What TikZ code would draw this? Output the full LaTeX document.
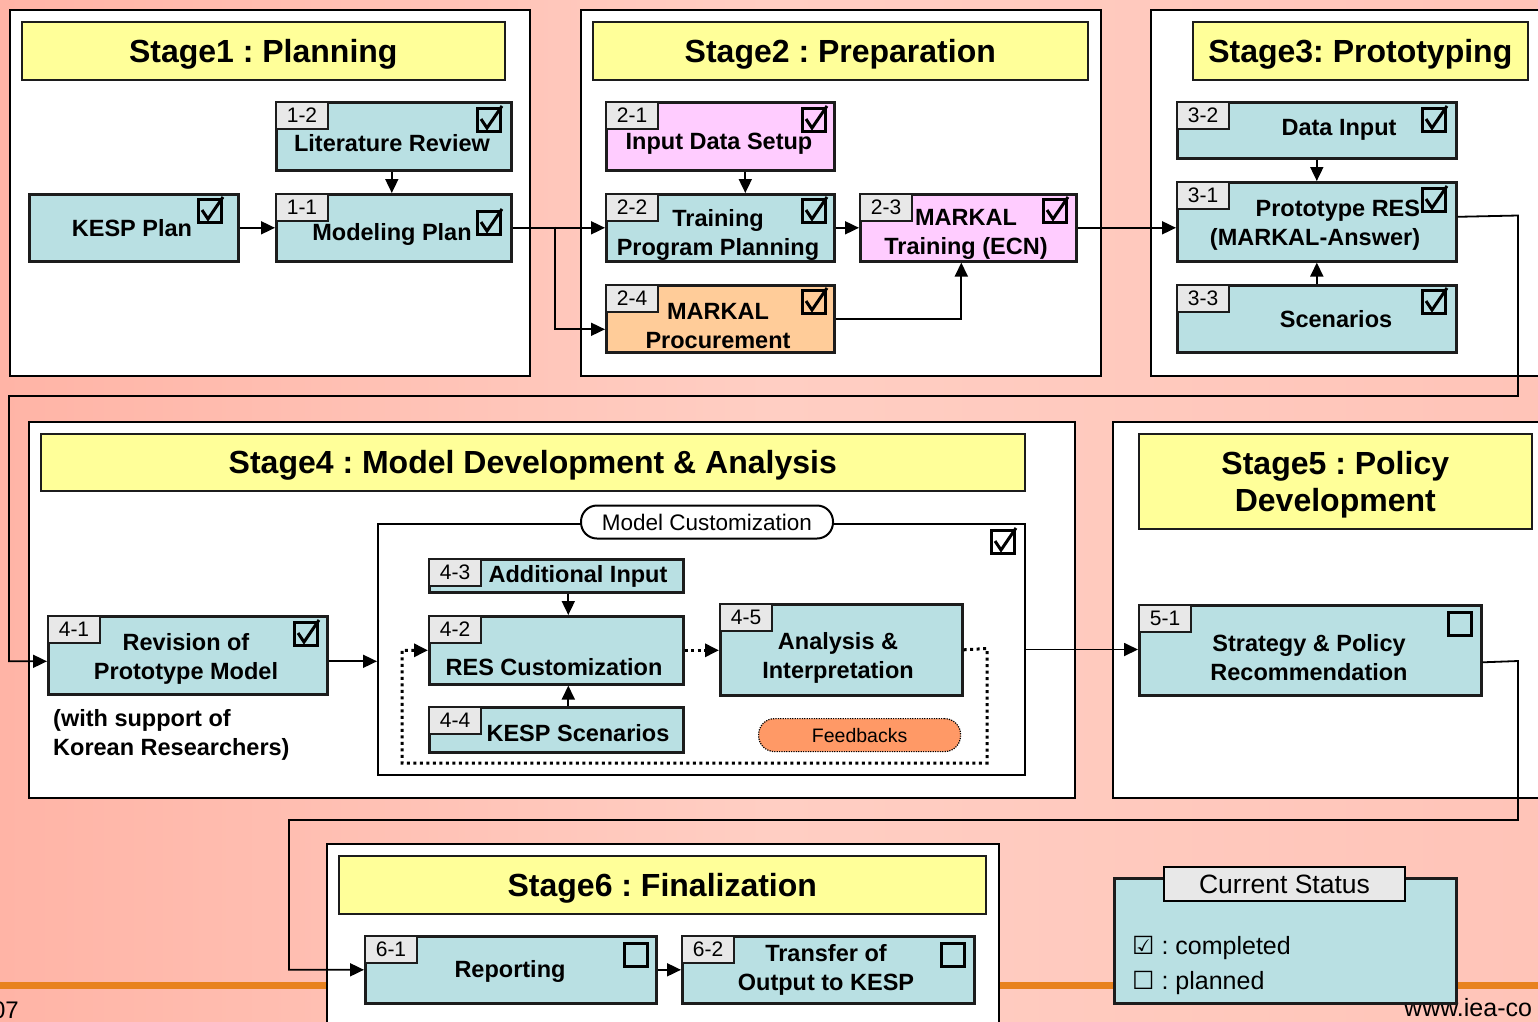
\documentclass[tikz,border=0pt]{standalone}
\usepackage{fontspec}
\setmainfont{Liberation Sans}
\newfontfamily\symfont{DejaVu Sans}
\usetikzlibrary{arrows.meta}
\frenchspacing
\definecolor{bgA}{RGB}{255,180,166}
\definecolor{bgB}{RGB}{255,206,195}
\definecolor{bgC}{RGB}{255,196,184}
\definecolor{tealbox}{RGB}{185,224,227}
\definecolor{pinkbox}{RGB}{255,204,255}
\definecolor{orangebox}{RGB}{255,204,153}
\definecolor{yellowbox}{RGB}{255,255,153}
\definecolor{tagfill}{RGB}{232,232,232}
\definecolor{feedfill}{RGB}{255,153,102}
\definecolor{footerline}{RGB}{232,130,30}
\definecolor{edge}{RGB}{28,28,28}

\tikzset{
  stagebox/.style={draw=black, line width=2pt, fill=white, anchor=north west, inner sep=0pt},
  titlebox/.style={draw=edge, line width=1.6pt, fill=yellowbox, anchor=north west, inner sep=0pt, align=center, text depth=0pt, font=\bfseries\fontsize{32}{37}\selectfont},
  taskbox/.style={draw=edge, line width=2.6pt, anchor=north west, inner sep=0pt},
  tagbox/.style={draw=edge, line width=2pt, fill=tagfill, anchor=north west, inner sep=0pt, minimum width=52pt, minimum height=27pt, font=\fontsize{21}{21}\selectfont},
  lbl/.style={align=center, inner sep=0pt, font=\bfseries\fontsize{23.5}{29}\selectfont},
  chkbox/.style={draw=black, line width=2.8pt, minimum size=23.5pt, inner sep=0pt},
  chkline/.style={draw=black, line width=3pt, line join=miter},
  conn/.style={draw=black, line width=1.8pt},
  arr/.style={conn, -{Triangle[length=14pt,width=13pt]}},
  dotconn/.style={draw=black, line width=3pt, dash pattern=on 3pt off 3.5pt},
}

\newcommand\mkbox[7]{%
  \node[taskbox, fill=#6, minimum width=#4, minimum height=#5] (#1) at (#2,#3) {};
  \node[tagbox] (#1tag) at (#2,#3) {#7};}
\newcommand\mkchk[3]{%
  \node[chkbox] (#1) at (#2,#3) {};
  \draw[chkline] ([shift={(-8pt,1pt)}]#1.center) -- ([shift={(-2pt,-8pt)}]#1.center) -- ([shift={(13pt,14pt)}]#1.center);}

\begin{document}
\begin{tikzpicture}[x=1pt,y=-1pt]
\useasboundingbox (0,0) rectangle (1538,1021);
\clip (0,0) rectangle (1538,1021);
\shade[left color=bgA, right color=bgC, middle color=bgB] (0,0) rectangle (1538,1021);
\fill[footerline] (0,982) rectangle (1538,989);
\node[anchor=north east, inner sep=0pt, font=\fontsize{24}{24}\selectfont] (pg) at (19,1002) {07};
\node[anchor=north west, inner sep=0pt, font=\fontsize{25}{25}\selectfont] (url) at (1404,998) {www.iea-co};

% stages
\node[stagebox, minimum width=520, minimum height=366] (s1) at (9,9) {};
\node[stagebox, minimum width=520, minimum height=366] (s2) at (580,9) {};
\node[stagebox, minimum width=430, minimum height=366] (s3) at (1150,9) {};
\node[stagebox, minimum width=1046, minimum height=376] (s4) at (28,421) {};
\node[stagebox, minimum width=460, minimum height=376] (s5) at (1112,421) {};
\node[stagebox, minimum width=672, minimum height=220] (s6) at (326,843) {};

\node[titlebox, minimum width=483, minimum height=58] (t1) at (21,21) {Stage1 : Planning};
\node[titlebox, minimum width=495, minimum height=58] (t2) at (592,21) {Stage2 : Preparation};
\node[titlebox, minimum width=335, minimum height=58] (t3) at (1192,21) {Stage3: Prototyping};
\node[titlebox, minimum width=984, minimum height=57] (t4) at (40,433) {Stage4 : Model Development \& Analysis};
\node[titlebox, minimum width=393, minimum height=95] (t5) at (1138,433) {Stage5 : Policy\\Development};
\node[titlebox, minimum width=647, minimum height=58] (t6) at (338,855) {Stage6 : Finalization};

% task boxes
\node[taskbox, fill=tealbox, minimum width=209, minimum height=67] (b0) at (28,193) {};
\mkbox{b12}{275}{101}{235}{68}{tealbox}{1-2}
\mkbox{b11}{275}{193}{235}{67}{tealbox}{1-1}
\mkbox{b21}{605}{101}{228}{68}{pinkbox}{2-1}
\mkbox{b22}{605}{193}{228}{67}{tealbox}{2-2}
\mkbox{b23}{859}{193}{216}{67}{pinkbox}{2-3}
\mkbox{b24}{605}{284}{228}{67}{orangebox}{2-4}
\mkbox{b32}{1176}{101}{279}{56}{tealbox}{3-2}
\mkbox{b31}{1176}{181}{279}{79}{tealbox}{3-1}
\mkbox{b33}{1176}{284}{279}{67}{tealbox}{3-3}
\mkbox{b41}{47}{615}{279}{78}{tealbox}{4-1}
\node[stagebox, minimum width=647, minimum height=251] (mc) at (377,523) {};
\mkbox{b43}{428}{558}{254}{33}{tealbox}{4-3}
\mkbox{b42}{428}{615}{254}{68}{tealbox}{4-2}
\mkbox{b44}{428}{706}{254}{45}{tealbox}{4-4}
\mkbox{b45}{719}{603}{242}{91}{tealbox}{4-5}
\mkbox{b51}{1138}{604}{342}{90}{tealbox}{5-1}
\mkbox{b61}{364}{935}{291}{67}{tealbox}{6-1}
\mkbox{b62}{681}{935}{292}{67}{tealbox}{6-2}

\node[draw=black, line width=2pt, fill=white, rounded corners=16pt, minimum width=252, minimum height=33, inner sep=0pt, font=\fontsize{22.5}{22.5}\selectfont] (mcl) at (707,522) {Model Customization};
\node[draw=black, line width=1.2pt, dash pattern=on 1.2pt off 1.2pt, fill=feedfill, rounded corners=16pt, minimum width=202, minimum height=33, inner sep=0pt, anchor=north west, font=\fontsize{19.5}{19.5}\selectfont] (fb) at (758,718) {Feedbacks};

% labels
\node[lbl] (l0) at (132,228) {KESP Plan};
\node[lbl] (l12) at (392,143) {Literature Review};
\node[lbl] (l11) at (392,234) {Modeling Plan};
\node[lbl] (l21) at (719,144) {Input Data Setup};
\node[lbl] (l22) at (718,234.5) {Training\\Program Planning};
\node[lbl] (l23) at (966,234.5) {MARKAL\\Training (ECN)};
\node[lbl] (l24) at (718,326) {MARKAL\\Procurement};
\node[lbl] (l32) at (1339,130) {Data Input};
\node[lbl, align=right] (l31) at (1315,225.5) {Prototype RES\\(MARKAL-Answer)};
\node[lbl] (l33) at (1336,319) {Scenarios};
\node[lbl] (l41) at (186,659) {Revision of\\Prototype Model};
\node[lbl, anchor=west, align=left] (sup41) at (53,735) {(with support of\\Korean Researchers)};
\node[lbl] (l43) at (578,576) {Additional Input};
\node[lbl] (l42) at (554,667) {RES Customization};
\node[lbl] (l44) at (578,733) {KESP Scenarios};
\node[lbl] (l45) at (838,658) {Analysis \&\\Interpretation};
\node[lbl] (l51) at (1309,658) {Strategy \& Policy\\Recommendation};
\node[lbl] (l61) at (510,971) {Reporting};
\node[lbl] (l62) at (826,970) {Transfer of\\Output to KESP};

% check boxes
\mkchk{c0}{210}{211}
\mkchk{c12}{489}{120}
\mkchk{c11}{489}{223}
\mkchk{c21}{814}{120}
\mkchk{c22}{814}{211}
\mkchk{c23}{1055}{211}
\mkchk{c24}{814}{302}
\mkchk{c32}{1434}{120}
\mkchk{c31}{1434}{200}
\mkchk{c33}{1434}{302}
\mkchk{c41}{306}{634}
\mkchk{cmc}{1003}{542}
\node[chkbox] (e51) at (1460,624) {};
\node[chkbox] (e61) at (636,955) {};
\node[chkbox] (e62) at (953,955) {};

% connectors
\draw[arr] (b0.east) -- (b11.west);
\draw[arr] ([xshift=-2pt]b12.south) -- ([xshift=-2pt]b11.north);
\draw[arr] (b11.east) -- (b22.west);
\coordinate (j1) at (555,226.5);
\draw[arr] (j1) |- ([yshift=-10.5pt]b24.west);
\draw[arr] ([xshift=25pt]b21.south) -- ([xshift=25pt]b22.north);
\draw[arr] (b22.east) -- (b23.west);
\draw[arr] (b24.east) -| ([xshift=-7pt]b23.south);
\draw[arr] (b23.east) -- (b31.west |- b23.east);
\draw[arr] (b32.south) -- (b31.north);
\draw[arr] (b33.north) -- (b31.south);
\coordinate (k1) at (1518,215.5);
\coordinate (k2) at (1518,396);
\coordinate (k3) at (9,396);
\draw[arr] ([yshift=5pt]b31.east) -- (k1) -- (k2) -- (k3) |- ([yshift=-6pt]b41.west);
\coordinate (a41) at ([yshift=-6pt]b41.east);
\draw[arr] (a41) -- (mc.west |- a41);
\draw[arr] ([xshift=12pt]b43.south) -- ([xshift=12pt]b42.north);
\draw[arr] ([xshift=12pt]b44.north) -- ([xshift=12pt]b42.south);
\draw[dotconn, -{Triangle[length=14pt,width=13pt]}] (b42.east) -- (b45.west |- b42.east);
\coordinate (d1) at (987,648.5);
\coordinate (d2) at (402,763);
\draw[dotconn, -{Triangle[length=14pt,width=13pt]}] (b45.east) -- (d1) |- (d2) |- (b42.west);
\draw[arr] (mc.east) -- (b51.west |- mc.east);
\coordinate (m1) at (1518,661);
\coordinate (m2) at (1518,820);
\coordinate (m3) at (289,820);
\draw[arr] ([yshift=-12pt]b51.east) -- (m1) -- (m2) -- (m3) |- (b61.west);
\draw[arr] (b61.east) -- (b62.west);

% current status
\node[taskbox, fill=tealbox, minimum width=342, minimum height=125] (cs) at (1113,877) {};
\node[draw=black, line width=2pt, fill=tagfill, anchor=north west, inner sep=0pt, minimum width=241, minimum height=34, font=\fontsize{26.5}{26.5}\selectfont] (csh) at (1163,866) {Current Status};
\node[anchor=west, inner sep=0pt, font=\fontsize{25}{25}\selectfont] (lg1) at (1132,948) {{\symfont ☑} : completed};
\node[anchor=west, inner sep=0pt, font=\fontsize{25}{25}\selectfont] (lg2) at (1132,983) {{\symfont ☐} : planned};
\end{tikzpicture}
\end{document}
